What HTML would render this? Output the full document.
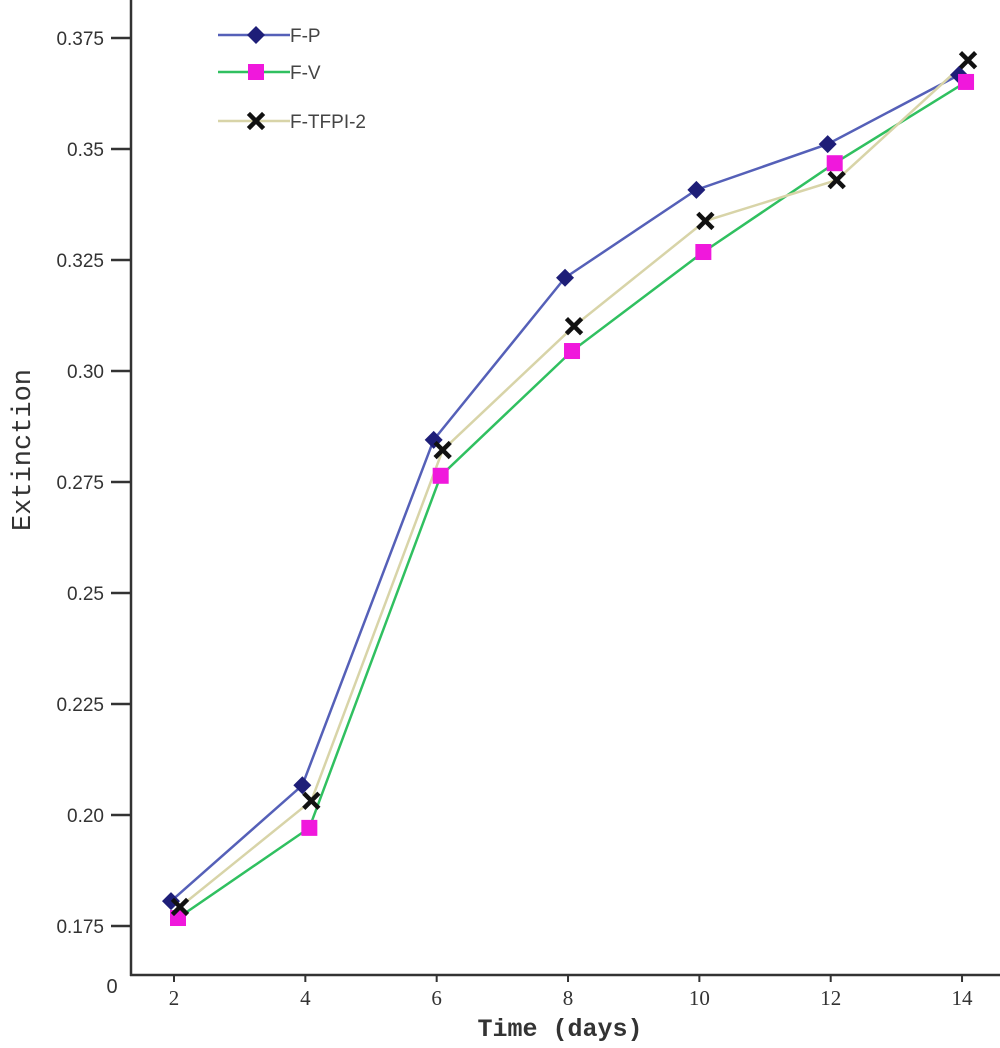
<!DOCTYPE html>
<html><head><meta charset="utf-8"><style>
body{margin:0;background:#fff;}
svg{display:block;font-family:"Liberation Sans",sans-serif;}
</style></head><body>
<svg id="chart" width="1000" height="1048">
<g id="axes"></g><g id="series"></g><g id="legend"></g>
</svg>
<script>
const days=[2,4,6,8,10,12,14];
const fP=[0.1806,0.2067,0.2845,0.3210,0.3408,0.3511,0.3667];
const fV=[0.1768,0.1971,0.2764,0.3045,0.3268,0.3468,0.3651];
const fT=[0.1793,0.2032,0.2822,0.3101,0.3338,0.3430,0.3700];
const yTicks=[0.175,0.2,0.225,0.25,0.275,0.3,0.325,0.35,0.375];
const yTickLabels=["0.175","0.20","0.225","0.25","0.275","0.30","0.325","0.35","0.375"];
const xTicks=[2,4,6,8,10,12,14];
const NS="http://www.w3.org/2000/svg";
function X(d){return 174+(d-2)*65.67;}
function Y(v){return 38+(0.375-v)/0.025*111;}
function mk(tag,attrs,parent,txt){const e=document.createElementNS(NS,tag);for(const k in attrs)e.setAttribute(k,attrs[k]);if(txt!==undefined)e.textContent=txt;parent.appendChild(e);return e;}
const ax=document.getElementById('axes');
let a=mk('line',{x1:131,y1:0,x2:131,y2:976,stroke:'#333','stroke-width':2.5},ax);


a=mk('line',{x1:130,y1:975,x2:1000,y2:975,stroke:'#333','stroke-width':2.5},ax);


yTicks.forEach((v,i)=>{
 mk('line',{x1:111,y1:Y(v),x2:131,y2:Y(v),stroke:'#333','stroke-width':2.5},ax);
 const t=mk('text',{x:104,y:Y(v)+7,'text-anchor':'end','font-size':19,fill:'#333'},ax,yTickLabels[i]);
 
 
});
xTicks.forEach(d=>{
 mk('line',{x1:X(d),y1:975,x2:X(d),y2:982,stroke:'#333','stroke-width':2},ax);
 const t=mk('text',{x:X(d),y:1005,'text-anchor':'middle','font-size':21,fill:'#333','font-family':'Liberation Serif,serif'},ax,String(d));
 
 
});
let t=mk('text',{x:112,y:993,'text-anchor':'middle','font-size':20,fill:'#333'},ax,'0');


t=mk('text',{x:560,y:1036,'text-anchor':'middle','font-size':25,'font-weight':'bold','font-family':'Liberation Mono,monospace',fill:'#333'},ax,'Time (days)');


t=mk('text',{x:30,y:450,'text-anchor':'middle','font-size':27,'font-family':'Liberation Mono,monospace',fill:'#333',transform:'rotate(-90 30 450)'},ax,'Extinction');


const sg=document.getElementById('series');
function marker(type,x,y,g){
 if(type==='d') return mk('polygon',{points:`${x},${y-9} ${x+9},${y} ${x},${y+9} ${x-9},${y}`,fill:'#1e1e78'},g);
 if(type==='s') return mk('rect',{x:x-8,y:y-8,width:16,height:16,fill:'#f018dc'},g);
 return mk('path',{d:`M${x-6},${y-6}L${x+6},${y+6}M${x+6},${y-6}L${x-6},${y+6}`,stroke:'#111','stroke-width':4.5,'stroke-linecap':'square'},g);
}
const series=[
 {name:'F-P',vals:fP,color:'#5560b8',m:'d',off:-3},
 {name:'F-V',vals:fV,color:'#30c060',m:'s',off:4},
 {name:'F-TFPI-2',vals:fT,color:'#d8d4a8',m:'x',off:6}];
series.forEach(s=>{
 const g=mk('g',{},sg);
 
 
 const pts=days.map((d,i)=>`${X(d)+s.off},${Y(s.vals[i])}`).join(' ');
 mk('polyline',{points:pts,fill:'none',stroke:s.color,'stroke-width':2.5},g);
});
series.forEach(s=>{
 days.forEach((d,i)=>{
  const m=marker(s.m,X(d)+s.off,Y(s.vals[i]),sg);
  
  
 });
});
const lg=document.getElementById('legend');
[35,72,121].forEach((y,i)=>{
 const s=series[i];
 const g=mk('g',{},lg);
 
 
 mk('line',{x1:218,y1:y,x2:290,y2:y,stroke:s.color,'stroke-width':2.5},g);
 marker(s.m,256,y,g);
 mk('text',{x:290,y:y+7,'font-size':19,fill:'#444'},g,s.name);
});
</script>
</body></html>
